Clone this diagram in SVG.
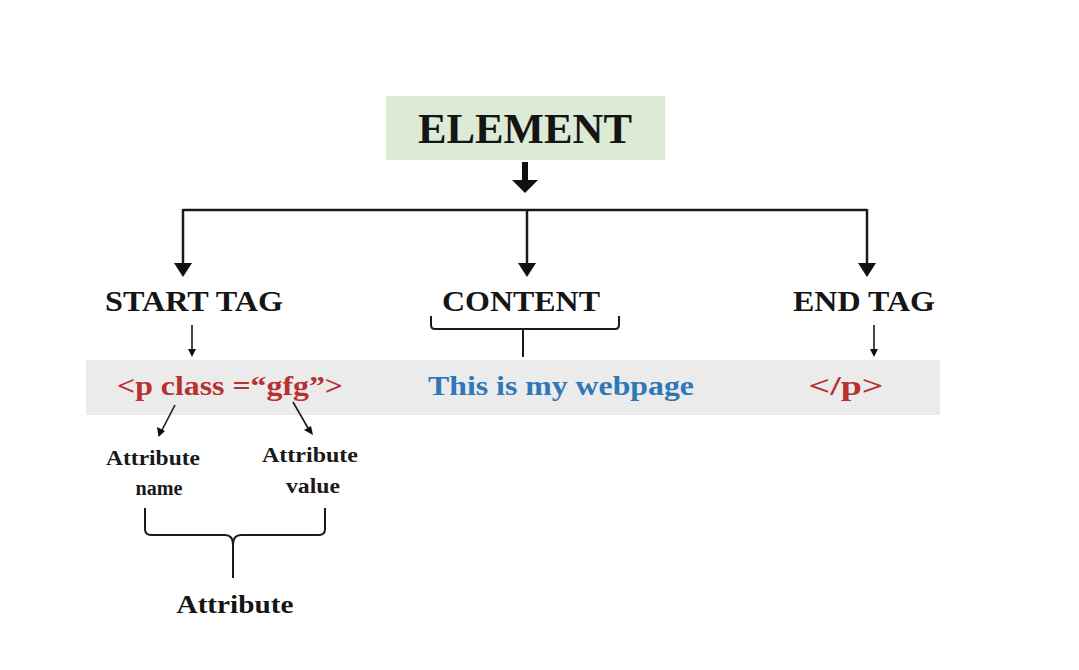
<svg xmlns="http://www.w3.org/2000/svg" width="1079" height="670" viewBox="0 0 1079 670">
<style>
text{font-family:"Liberation Serif","DejaVu Serif",serif;font-weight:bold;text-anchor:middle}
.head{fill:#151515;font-size:30px}
.tag{fill:#b83131;font-size:28px}
.cnt{fill:#2e78b7;font-size:28px}
.small{fill:#1a1a1a;font-size:20px}
.line{stroke:#1a1a1a;stroke-width:2.5;fill:none}
.thin{stroke:#1a1a1a;stroke-width:1.6;fill:none}
.brace{stroke:#1a1a1a;stroke-width:2;fill:none}
.tip{fill:#111}
</style>
<rect width="1079" height="670" fill="#ffffff"/>
<g id="element">
<rect x="386" y="96" width="279" height="64" fill="#dcebd6"/>
<text x="525" y="143" class="head" style="font-size:42px" textLength="214" lengthAdjust="spacingAndGlyphs">ELEMENT</text>
</g>
<g id="band">
<rect x="86" y="360" width="854" height="55" fill="#ebebeb"/>
</g>
<g id="start-tag">
<text x="194" y="311" class="head" textLength="178" lengthAdjust="spacingAndGlyphs">START TAG</text>
</g>
<g id="content">
<text x="521" y="311" class="head" textLength="158" lengthAdjust="spacingAndGlyphs">CONTENT</text>
</g>
<g id="end-tag">
<text x="864" y="311" class="head" textLength="142" lengthAdjust="spacingAndGlyphs">END TAG</text>
</g>
<g id="start-code">
<text x="230" y="395" class="tag" textLength="226" lengthAdjust="spacingAndGlyphs">&lt;p class =“gfg”&gt;</text>
</g>
<g id="content-code">
<text x="561" y="395" class="cnt" textLength="266" lengthAdjust="spacingAndGlyphs">This is my webpage</text>
</g>
<g id="end-code">
<text x="846" y="395" class="tag" textLength="75" lengthAdjust="spacingAndGlyphs">&lt;/p&gt;</text>
</g>
<g id="attr-name">
<text x="153" y="465" class="small" textLength="94" lengthAdjust="spacingAndGlyphs">Attribute</text>
<text x="159" y="495" class="small" textLength="47" lengthAdjust="spacingAndGlyphs">name</text>
</g>
<g id="attr-value">
<text x="310" y="462" class="small" textLength="96" lengthAdjust="spacingAndGlyphs">Attribute</text>
<text x="313" y="493" class="small" textLength="54" lengthAdjust="spacingAndGlyphs">value</text>
</g>
<g id="attribute">
<text x="235" y="613" class="head" style="font-size:26px" textLength="117" lengthAdjust="spacingAndGlyphs">Attribute</text>
</g>
<g id="connectors">
<rect x="522" y="162" width="6" height="19" class="tip"/>
<path d="M512,180 L538,180 L525,193 Z" class="tip"/>
<path d="M183,210 H867" class="line"/>
<path d="M183,209 V265" class="line"/>
<path d="M174,263 L192,263 L183,277 Z" class="tip"/>
<path d="M527,210 V265" class="line"/>
<path d="M518,263 L536,263 L527,277 Z" class="tip"/>
<path d="M867,209 V265" class="line"/>
<path d="M858,263 L876,263 L867,277 Z" class="tip"/>
<path d="M192,325 V350" class="thin"/>
<path d="M188,349 L196,349 L192,357 Z" class="tip"/>
<path d="M874,325 V350" class="thin"/>
<path d="M870,349 L878,349 L874,357 Z" class="tip"/>
<path d="M431,316 V325 Q431,329 435,329 H615 Q619,329 619,325 V316" class="brace"/>
<path d="M523,329 V357" class="brace"/>
<path d="M175,405 L162,430" class="thin"/>
<path d="M158.5,437 L157,427 L165,431 Z" class="tip"/>
<path d="M293,402 L308,428" class="thin"/>
<path d="M313,435 L304,430 L311,426 Z" class="tip"/>
<path d="M145,508 V529 Q145,535 151,535 H225 Q233,535 233,545 Q233,535 241,535 H319 Q325,535 325,529 V508" class="brace"/>
<path d="M233,540 V578" class="brace"/>
</g>
</svg>
